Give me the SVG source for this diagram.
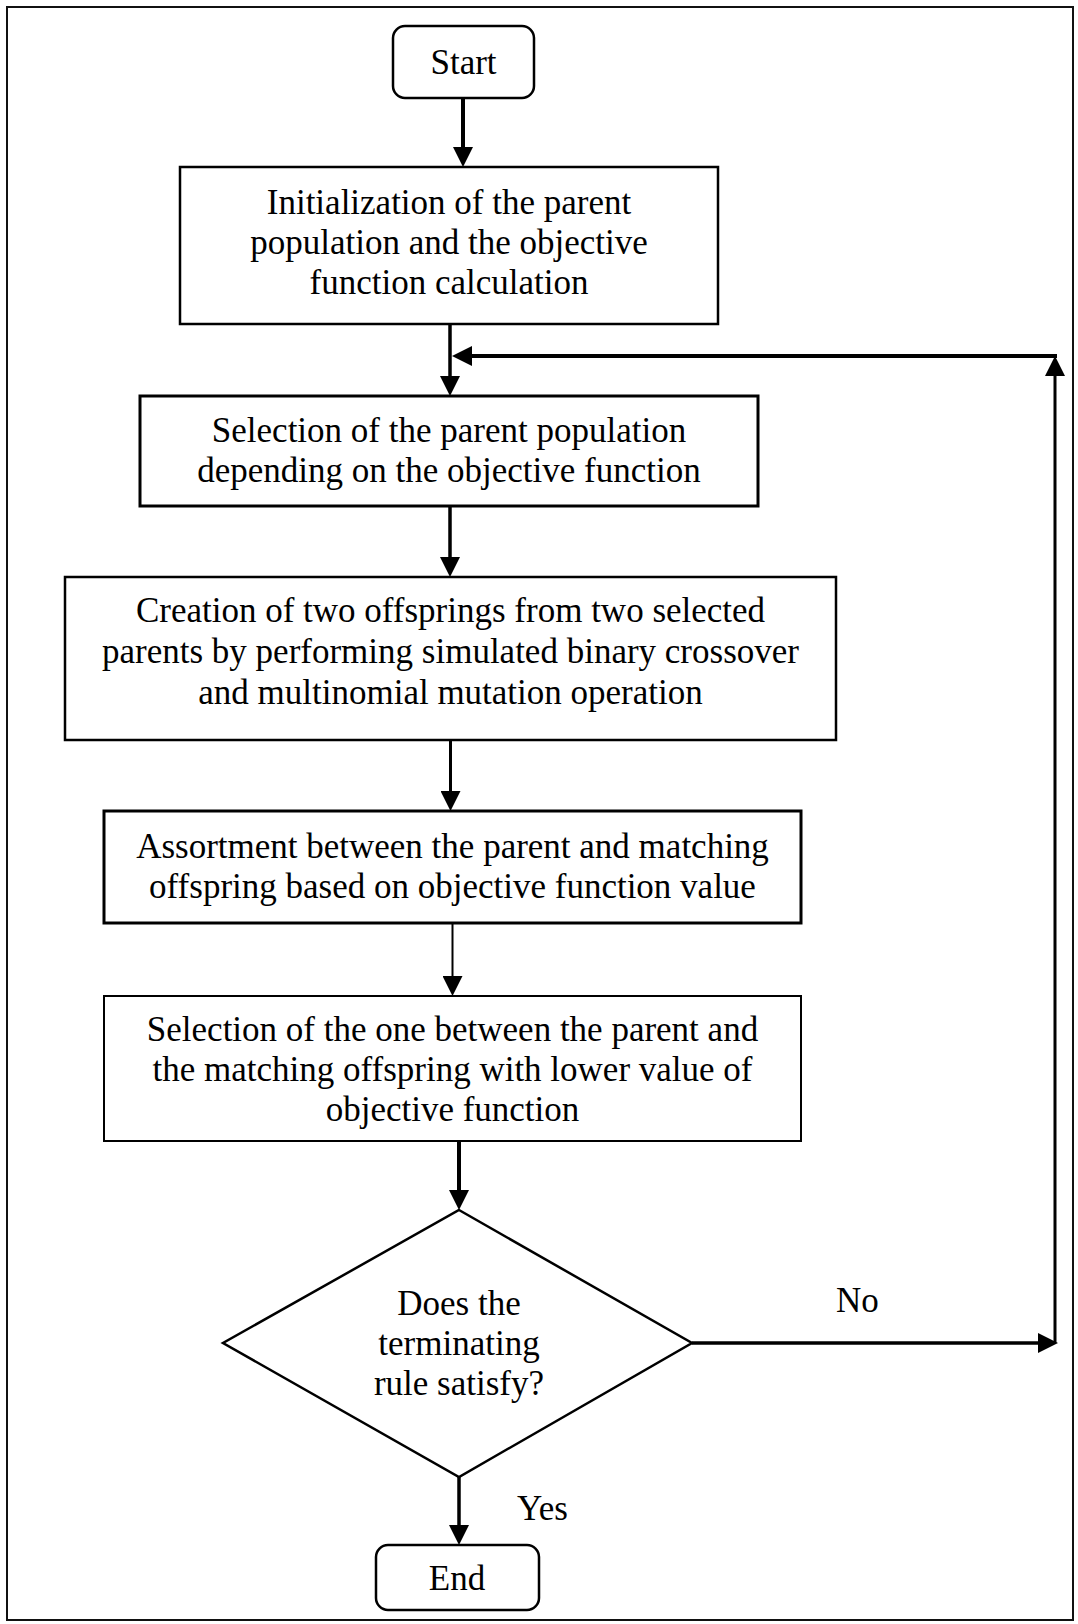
<svg xmlns="http://www.w3.org/2000/svg" width="1078" height="1624" viewBox="0 0 1078 1624">
  <defs>
    <marker id="ah" viewBox="0 0 20 20" refX="10" refY="10" markerWidth="20" markerHeight="20" markerUnits="userSpaceOnUse" orient="auto">
      <path d="M0,0 L20,10 L0,20 z" fill="#000"/>
    </marker>
    <style>
      .box { fill: #fff; stroke: #000; stroke-width: 2.5; }
      .term { fill: #fff; stroke: #000; stroke-width: 2.5; }
      .lbl { font-family: "Liberation Serif", "Times New Roman", serif; font-size: 35px; fill: #000; text-anchor: middle; }
      .side { font-family: "Liberation Serif", "Times New Roman", serif; font-size: 35px; fill: #000; }
      .conn { fill: none; stroke: #000; stroke-width: 3.5; marker-end: url(#ah); }
      .thin { stroke-width: 2; }
      .plain { fill: none; stroke: #000; stroke-width: 3.5; }
    </style>
  </defs>

  <rect x="0" y="0" width="1078" height="1624" fill="#fff"/>
  <!-- frame -->
  <rect x="7" y="7" width="1066" height="1613" fill="none" stroke="#111" stroke-width="2"/>

  <!-- connectors -->
  <g id="connectors">
    <path class="conn" d="M463,98 V157" style="stroke-width:4"/>
    <path class="conn" d="M450,324 V386"/>
    <path class="conn" d="M450,506 V567"/>
    <path class="conn" d="M450.5,740 V801" style="stroke-width:3"/>
    <path class="conn thin" d="M452.5,923 V986"/>
    <path class="conn" d="M459,1141 V1200" style="stroke-width:4"/>
    <path class="conn" d="M459,1477 V1535"/>
    <!-- "No" branch looping back above the selection step -->
    <path class="conn" d="M692,1343 H1048"/>
    <path class="conn" d="M1055,1343 V366" style="stroke-width:3"/>
    <path class="conn" d="M1057,356 H462" style="stroke-width:4"/>
  </g>

  <g id="start">
    <rect class="term" x="393" y="26" width="141" height="72" rx="12"/>
    <text class="lbl" x="463.5" y="74">Start</text>
  </g>

  <g id="init">
    <rect class="box" x="180" y="167" width="538" height="157"/>
    <text class="lbl" x="449" y="214">Initialization of the parent</text>
    <text class="lbl" x="449" y="254">population and the objective</text>
    <text class="lbl" x="449" y="294">function calculation</text>
  </g>

  <g id="select-parents">
    <rect class="box" x="140" y="396" width="618" height="110" style="stroke-width:3"/>
    <text class="lbl" x="449" y="442">Selection of the parent population</text>
    <text class="lbl" x="449" y="482">depending on the objective function</text>
  </g>

  <g id="create-offspring">
    <rect class="box" x="65" y="577" width="771" height="163"/>
    <text class="lbl" x="450.5" y="622">Creation of two offsprings from two selected</text>
    <text class="lbl" x="450.5" y="663">parents by performing simulated binary crossover</text>
    <text class="lbl" x="450.5" y="704">and multinomial mutation operation</text>
  </g>

  <g id="assortment">
    <rect class="box" x="104" y="811" width="697" height="112" style="stroke-width:3"/>
    <text class="lbl" x="452.5" y="858">Assortment between the parent and matching</text>
    <text class="lbl" x="452.5" y="898">offspring based on objective function value</text>
  </g>

  <g id="select-lower">
    <rect class="box" x="104" y="996" width="697" height="145" style="stroke-width:2"/>
    <text class="lbl" x="452.5" y="1041">Selection of the one between the parent and</text>
    <text class="lbl" x="452.5" y="1081">the matching offspring with lower value of</text>
    <text class="lbl" x="452.5" y="1121">objective function</text>
  </g>

  <g id="decision">
    <polygon class="box" points="459,1210 692,1343 459,1477 223,1343"/>
    <text class="lbl" x="459" y="1315">Does the</text>
    <text class="lbl" x="459" y="1355">terminating</text>
    <text class="lbl" x="459" y="1395">rule satisfy?</text>
  </g>

  <g id="branch-labels">
    <text class="side" x="836" y="1312">No</text>
    <text class="side" x="517" y="1520">Yes</text>
  </g>

  <g id="end">
    <rect class="term" x="376" y="1545" width="163" height="65" rx="12"/>
    <text class="lbl" x="457" y="1590">End</text>
  </g>
</svg>
